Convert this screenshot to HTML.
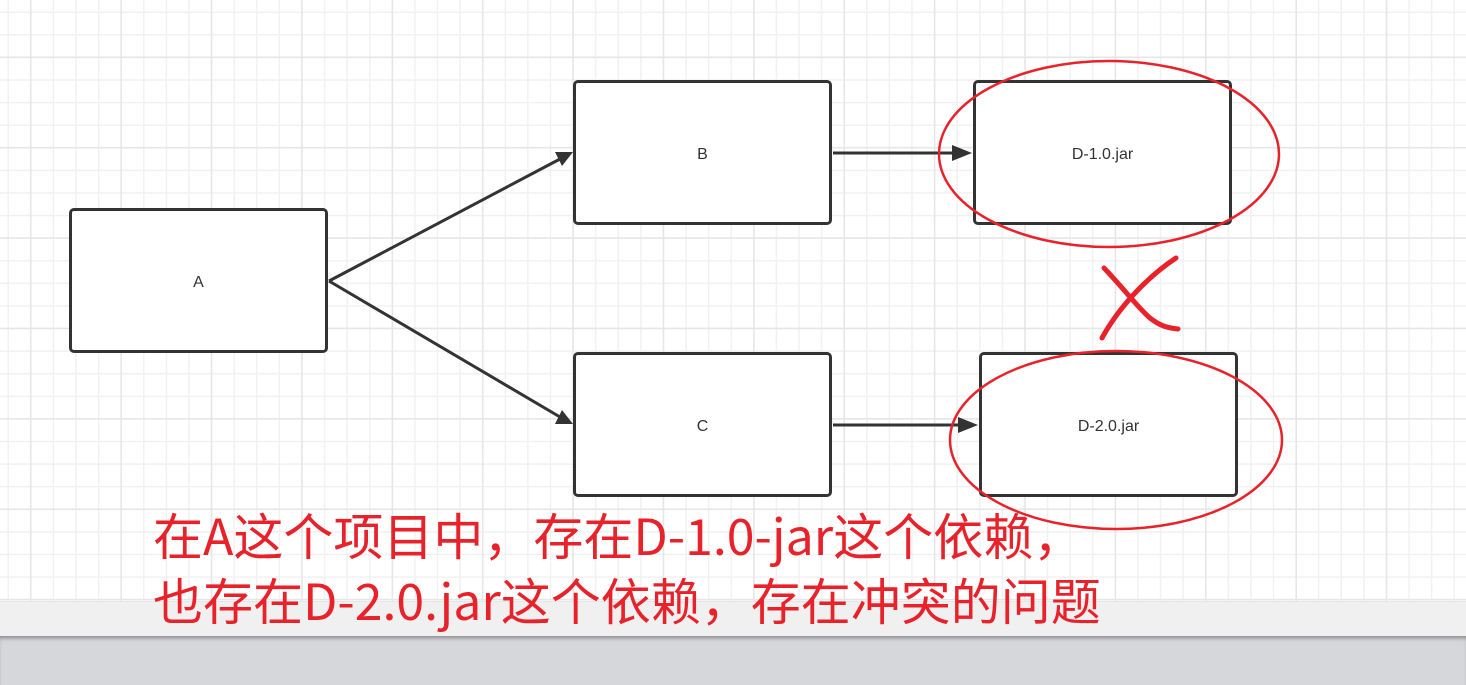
<!DOCTYPE html>
<html><head><meta charset="utf-8"><style>
html,body{margin:0;padding:0;}
body{width:1466px;height:685px;position:relative;overflow:hidden;background:#fff;font-family:"Liberation Sans","Noto Sans CJK SC",sans-serif;}
.grid{position:absolute;left:0;top:0;width:1466px;height:601px;
background-image:
linear-gradient(to right,#e6e6e6 0,#e6e6e6 1.5px,transparent 1.5px),
linear-gradient(to bottom,#e6e6e6 0,#e6e6e6 1.5px,transparent 1.5px),
linear-gradient(to right,#f1f1f1 0,#f1f1f1 1.5px,transparent 1.5px),
linear-gradient(to bottom,#f1f1f1 0,#f1f1f1 1.5px,transparent 1.5px);
background-size:90.4px 90.4px,90.4px 90.4px,22.6px 22.6px,22.6px 22.6px;
background-position:30px 0,0 56.5px,7.5px 0,0 11.5px;}
.band{position:absolute;left:0;top:601px;width:1466px;height:35px;background:#f0f0f0;border-top:1px solid #e6e6e6;}
.bot{position:absolute;left:0;top:636px;width:1466px;height:49px;background:#d6d7db;box-shadow:inset 0 4px 4px -2px #888;}
.box{position:absolute;box-sizing:border-box;border:3px solid #333;border-radius:5px;background:#fff;width:259px;height:145px;display:flex;align-items:center;justify-content:center;font-size:16px;color:#333;padding-top:4px;}
.txt{position:absolute;left:153px;color:#e8222a;font-size:50px;font-family:"Noto Sans CJK SC",sans-serif;line-height:1;white-space:nowrap;}
</style></head><body>
<div class="grid"></div>
<div class="band"></div>
<div class="bot"></div>
<div class="box" style="left:69px;top:208px">A</div>
<div class="box" style="left:573px;top:80px">B</div>
<div class="box" style="left:573px;top:352px">C</div>
<div class="box" style="left:973px;top:80px">D-1.0.jar</div>
<div class="box" style="left:979px;top:352px">D-2.0.jar</div>
<svg width="1466" height="685" style="position:absolute;left:0;top:0">
<g stroke="#333" stroke-width="3" fill="none">
<line x1="329" y1="281" x2="560" y2="159"/>
<line x1="329" y1="281" x2="560" y2="417"/>
<line x1="833" y1="153" x2="955" y2="153"/>
<line x1="833" y1="425" x2="960" y2="425"/>
</g>
<g fill="#333">
<polygon points="573,152 555,152 562,166"/>
<polygon points="573,424 562,410 555,424" />
<polygon points="972,153 952,145 952,161"/>
<polygon points="978,425 958,417 958,433"/>
</g>
<g stroke="#e8222a" stroke-width="2.5" fill="none">
<ellipse cx="1109" cy="154" rx="170" ry="93"/>
<ellipse cx="1116" cy="440" rx="166" ry="89"/>
</g>
<g stroke="#e8222a" stroke-width="5" fill="none" stroke-linecap="round">
<path d="M1104,268 C1125,290 1140,310 1150,318 C1160,326 1168,328 1178,329"/>
<path d="M1176,258 C1150,275 1120,305 1102,338"/>
</g>
</svg>
<div class="txt" style="top:509px">在A这个项目中，存在D-1.0-jar这个依赖，</div>
<div class="txt" style="top:574px">也存在D-2.0.jar这个依赖，存在冲突的问题</div>
</body></html>
